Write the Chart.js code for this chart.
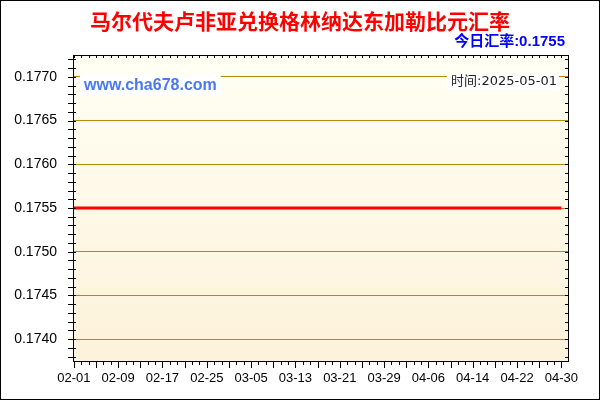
<!DOCTYPE html>
<html><head><meta charset="utf-8">
<script src="https://cdn.jsdelivr.net/npm/chart.js@4.4.1/dist/chart.umd.min.js"></script>
<style>html,body{margin:0;padding:0;background:#fff}#wrap{width:600px;height:400px}canvas{display:block}</style>
</head><body><div id="wrap"><canvas id="c" width="600" height="400"></canvas></div>
<script>
const dates = [
'02-01','02-02','02-03','02-04','02-05','02-06','02-07','02-08','02-09','02-10','02-11','02-12','02-13','02-14',
'02-15','02-16','02-17','02-18','02-19','02-20','02-21','02-22','02-23','02-24','02-25','02-26','02-27','02-28',
'03-01','03-02','03-03','03-04','03-05','03-06','03-07','03-08','03-09','03-10','03-11','03-12','03-13','03-14',
'03-15','03-16','03-17','03-18','03-19','03-20','03-21','03-22','03-23','03-24','03-25','03-26','03-27','03-28',
'03-29','03-30','03-31','04-01','04-02','04-03','04-04','04-05','04-06','04-07','04-08','04-09','04-10','04-11',
'04-12','04-13','04-14','04-15','04-16','04-17','04-18','04-19','04-20','04-21','04-22','04-23','04-24','04-25',
'04-26','04-27','04-28','04-29','04-30'];
const rates = [
0.1755,0.1755,0.1755,0.1755,0.1755,0.1755,0.1755,0.1755,0.1755,0.1755,0.1755,0.1755,0.1755,0.1755,
0.1755,0.1755,0.1755,0.1755,0.1755,0.1755,0.1755,0.1755,0.1755,0.1755,0.1755,0.1755,0.1755,0.1755,
0.1755,0.1755,0.1755,0.1755,0.1755,0.1755,0.1755,0.1755,0.1755,0.1755,0.1755,0.1755,0.1755,0.1755,
0.1755,0.1755,0.1755,0.1755,0.1755,0.1755,0.1755,0.1755,0.1755,0.1755,0.1755,0.1755,0.1755,0.1755,
0.1755,0.1755,0.1755,0.1755,0.1755,0.1755,0.1755,0.1755,0.1755,0.1755,0.1755,0.1755,0.1755,0.1755,
0.1755,0.1755,0.1755,0.1755,0.1755,0.1755,0.1755,0.1755,0.1755,0.1755,0.1755,0.1755,0.1755,0.1755,
0.1755,0.1755,0.1755,0.1755,0.1755];
const xTickLabels = ['02-01','02-09','02-17','02-25','03-05','03-13','03-21','03-29','04-06','04-14','04-22','04-30'];
const yTickValues = [0.1740,0.1745,0.1750,0.1755,0.1760,0.1765,0.1770];
const titleText = '马尔代夫卢非亚兑换格林纳达东加勒比元汇率';
const todayText = '今日汇率:0.1755';
const siteText = 'www.cha678.com';
const timeText = '时间:2025-05-01';

const points = rates.map((v, i) => ({x: i, y: v}));

const decor = {
  id: 'decor',
  beforeDraw(chart) {
    const ctx = chart.ctx, a = chart.chartArea;
    ctx.save();
    ctx.fillStyle = '#fff';
    ctx.fillRect(0, 0, chart.width, chart.height);
    const g = ctx.createLinearGradient(0, a.top, 0, a.bottom);
    g.addColorStop(0, '#FFFFF4');
    g.addColorStop(1, '#FDF2DA');
    ctx.fillStyle = g;
    ctx.fillRect(a.left, a.top, a.right - a.left, a.bottom - a.top);
    ctx.restore();
  },
  afterDraw(chart) {
    const ctx = chart.ctx, a = chart.chartArea;
    const xs = chart.scales.x, ys = chart.scales.y;
    ctx.save();
    // watermark
    ctx.font = 'bold 16px "Liberation Sans", Arial, sans-serif';
    ctx.textBaseline = 'middle';
    ctx.textAlign = 'left';
    const sw = ctx.measureText(siteText).width;
    ctx.fillStyle = '#fff';
    ctx.fillRect(80, 75, sw + 8, 21);
    ctx.fillStyle = '#4A78F0';
    ctx.fillText(siteText, 84, 85.5);
    // time
    ctx.font = '13px "DejaVu Sans", "Noto Sans CJK SC", sans-serif';
    const tw = ctx.measureText(timeText).width;
    ctx.fillStyle = '#fff';
    ctx.fillRect(557 - tw - 4, 74, tw + 6, 16);
    ctx.fillStyle = '#222';
    ctx.textAlign = 'right';
    ctx.fillText(timeText, 557, 82);
    // ticks
    ctx.strokeStyle = '#000';
    ctx.lineWidth = 1;
    ctx.beginPath();
    for (let k = 1738; k <= 1772; k++) {
      const y = Math.round(ys.getPixelForValue(k / 10000)) + 0.5;
      ctx.moveTo(a.left - 5, y); ctx.lineTo(a.left + 3, y);
      ctx.moveTo(a.right - 3, y); ctx.lineTo(a.right, y);
    }
    for (let j = 0; j * 4 / 3 <= xs.max; j++) {
      const d = j * 4 / 3;
      const x = Math.round(xs.getPixelForValue(d)) + 0.5;
      const len = (j % 3 === 0) ? 7 : 4;
      ctx.moveTo(x, a.bottom); ctx.lineTo(x, a.bottom + len);
      ctx.moveTo(x, a.top); ctx.lineTo(x, a.top + 3);
    }
    // top & right borders
    ctx.moveTo(a.left, Math.round(a.top) + 0.5); ctx.lineTo(a.right + 1, Math.round(a.top) + 0.5);
    ctx.moveTo(Math.round(a.right) + 0.5, a.top); ctx.lineTo(Math.round(a.right) + 0.5, a.bottom + 1);
    ctx.stroke();
    // outer border
    ctx.strokeRect(0.5, 0.5, chart.width - 1, chart.height - 1);
    // title
    ctx.textAlign = 'center';
    ctx.textBaseline = 'middle';
    ctx.font = 'bold 21px "Noto Sans CJK SC", sans-serif';
    ctx.fillStyle = '#FF0000';
    ctx.fillText(titleText, 300, 21);
    ctx.textAlign = 'right';
    ctx.font = 'bold 15px "Liberation Sans", "Noto Sans CJK SC", sans-serif';
    ctx.fillStyle = '#0000FF';
    ctx.fillText(todayText, 565, 42);
    ctx.restore();
  }
};

new Chart(document.getElementById('c'), {
  type: 'line',
  data: {
    datasets: [{
      data: points,
      borderColor: '#FF0000',
      borderWidth: 3,
      pointRadius: 0,
      tension: 0,
      fill: false
    }]
  },
  options: {
    responsive: false,
    animation: false,
    layout: {padding: {top: 55, right: 32, left: 0, bottom: 0}},
    plugins: {legend: {display: false}, tooltip: {enabled: false}, title: {display: false}},
    scales: {
      x: {
        type: 'linear',
        min: -0.15,
        max: 89.2,
        afterFit: s => { s.height = 39; },
        afterBuildTicks: s => { s.ticks = xTickLabels.map(l => ({value: dates.indexOf(l)})); },
        grid: {display: false, drawTicks: false},
        border: {display: true, color: '#000', width: 1},
        ticks: {
          autoSkip: false, maxRotation: 0, padding: 10,
          color: '#000',
          font: {family: '"Liberation Sans", Arial, sans-serif', size: 13},
          callback: v => dates[v]
        }
      },
      y: {
        min: 0.17375,
        max: 0.17725,
        afterFit: s => { s.width = 73; },
        afterBuildTicks: s => { s.ticks = yTickValues.map(v => ({value: v})); },
        grid: {color: '#B8860B', lineWidth: 1, drawTicks: false},
        border: {display: true, color: '#000', width: 1},
        ticks: {
          padding: 16,
          color: '#000',
          font: {family: '"Liberation Sans", Arial, sans-serif', size: 14},
          callback: v => v.toFixed(4)
        }
      }
    }
  },
  plugins: [decor]
});
</script>
</body></html>
